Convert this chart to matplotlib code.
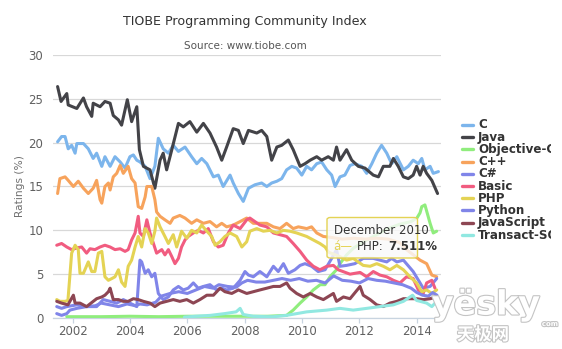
import matplotlib
matplotlib.use("Agg")
import matplotlib.pyplot as plt
import matplotlib.patheffects as pe
from matplotlib.lines import Line2D
from matplotlib.patches import FancyBboxPatch
from matplotlib.transforms import Bbox, TransformedBbox

# (decimal year, rating %)
c_points = [
    (2001.48, 20.1), (2001.62, 20.7), (2001.74, 20.7), (2001.85, 19.3), (2001.97, 19.7),
    (2002.09, 18.8), (2002.15, 19.9), (2002.38, 19.9), (2002.55, 19.3), (2002.72, 18.2),
    (2002.84, 18.8), (2003.02, 17.3), (2003.13, 18.4), (2003.31, 17.3), (2003.48, 18.4),
    (2003.66, 17.8), (2003.83, 17.1), (2004.00, 18.4), (2004.12, 18.6), (2004.24, 18.0),
    (2004.35, 17.8), (2004.53, 17.3), (2004.70, 15.9), (2004.87, 17.3), (2004.99, 20.5),
    (2005.16, 19.3), (2005.34, 18.8), (2005.51, 19.7), (2005.69, 19.0), (2005.92, 19.5),
    (2006.15, 18.4), (2006.33, 17.6), (2006.50, 18.2), (2006.68, 17.6), (2006.91, 16.1),
    (2007.08, 16.3), (2007.25, 15.0), (2007.49, 16.3), (2007.60, 15.4), (2007.78, 14.2),
    (2007.95, 13.3), (2008.13, 14.8), (2008.36, 15.2), (2008.59, 15.4), (2008.77, 15.0),
    (2008.94, 15.4), (2009.12, 15.6), (2009.29, 15.9), (2009.46, 16.9), (2009.64, 17.3),
    (2009.81, 17.1), (2009.99, 16.3), (2010.16, 17.3), (2010.33, 16.9), (2010.51, 17.6),
    (2010.68, 17.8), (2010.86, 16.9), (2011.03, 16.3), (2011.15, 15.0), (2011.32, 16.1),
    (2011.49, 16.3), (2011.67, 17.4), (2011.84, 17.6), (2012.08, 17.3), (2012.25, 16.5),
    (2012.43, 17.6), (2012.60, 18.8), (2012.77, 19.7), (2012.95, 18.8), (2013.12, 17.6),
    (2013.30, 18.4), (2013.53, 16.9), (2013.70, 17.3), (2013.87, 18.0), (2014.05, 17.6),
    (2014.17, 18.2), (2014.28, 16.9), (2014.46, 17.3), (2014.57, 16.5), (2014.75, 16.7),
]
java_points = [
    (2001.48, 26.4), (2001.60, 24.7), (2001.80, 25.6), (2001.85, 24.3), (2002.15, 23.9),
    (2002.38, 25.1), (2002.49, 24.1), (2002.67, 23.0), (2002.72, 24.5), (2002.96, 24.1),
    (2003.13, 24.7), (2003.31, 24.5), (2003.42, 23.1), (2003.60, 22.6), (2003.71, 22.0),
    (2003.91, 24.9), (2004.06, 22.4), (2004.24, 24.1), (2004.33, 19.2), (2004.47, 17.3),
    (2004.70, 16.9), (2004.87, 14.8), (2005.05, 18.0), (2005.16, 18.8), (2005.28, 16.9),
    (2005.46, 19.2), (2005.69, 22.2), (2005.86, 21.8), (2006.09, 22.4), (2006.33, 21.2),
    (2006.56, 22.2), (2006.79, 21.1), (2007.02, 19.5), (2007.20, 18.0), (2007.37, 19.5),
    (2007.60, 21.6), (2007.78, 21.4), (2007.95, 19.9), (2008.13, 21.4), (2008.42, 21.1),
    (2008.59, 21.4), (2008.77, 20.7), (2008.94, 18.0), (2009.12, 19.5), (2009.29, 19.7),
    (2009.52, 20.3), (2009.69, 19.2), (2009.93, 17.3), (2010.10, 17.6), (2010.28, 18.0),
    (2010.51, 18.4), (2010.68, 18.0), (2010.91, 18.4), (2011.09, 18.0), (2011.20, 19.5),
    (2011.32, 18.0), (2011.55, 19.2), (2011.73, 18.0), (2011.96, 17.3), (2012.19, 17.1),
    (2012.48, 16.3), (2012.66, 16.1), (2012.83, 17.3), (2013.06, 17.3), (2013.18, 18.2),
    (2013.35, 17.3), (2013.53, 16.1), (2013.70, 15.9), (2013.87, 16.3), (2013.99, 17.3),
    (2014.11, 16.3), (2014.22, 17.3), (2014.34, 16.5), (2014.52, 15.7), (2014.72, 14.2),
]
objc_points = [
    (2001.80, 0.15), (2003.00, 0.15), (2004.00, 0.2), (2005.00, 0.15), (2006.00, 0.2),
    (2007.00, 0.2), (2008.00, 0.2), (2008.80, 0.2), (2009.46, 0.3), (2009.69, 0.9),
    (2009.93, 1.7), (2010.16, 2.4), (2010.39, 3.2), (2010.63, 3.8), (2010.80, 3.8),
    (2010.97, 4.7), (2011.20, 5.5), (2011.32, 6.2), (2011.55, 7.2), (2011.80, 8.0),
    (2012.20, 8.8), (2012.60, 9.5), (2013.00, 10.2), (2013.40, 10.7), (2013.80, 11.0),
    (2014.00, 11.4), (2014.11, 12.0), (2014.17, 12.7), (2014.28, 12.9), (2014.46, 10.8),
    (2014.57, 9.7), (2014.69, 9.9),
]
cpp_points = [
    (2001.48, 14.2), (2001.56, 15.9), (2001.74, 16.1), (2001.85, 15.7), (2002.03, 15.0),
    (2002.20, 15.6), (2002.38, 14.8), (2002.55, 14.2), (2002.72, 14.8), (2002.84, 15.7),
    (2002.96, 13.5), (2003.02, 13.1), (2003.13, 15.0), (2003.25, 15.4), (2003.31, 14.6),
    (2003.42, 16.1), (2003.54, 16.5), (2003.66, 17.4), (2003.77, 16.5), (2003.94, 17.3),
    (2004.06, 15.9), (2004.18, 15.4), (2004.29, 12.7), (2004.41, 12.5), (2004.53, 13.8),
    (2004.59, 15.0), (2004.76, 15.0), (2004.87, 13.5), (2004.93, 12.1), (2005.05, 11.6),
    (2005.22, 11.2), (2005.40, 10.8), (2005.51, 11.4), (2005.74, 11.7), (2005.92, 11.4),
    (2006.15, 10.8), (2006.33, 11.2), (2006.56, 10.8), (2006.79, 11.0), (2007.02, 10.4),
    (2007.20, 10.8), (2007.37, 10.4), (2007.60, 10.6), (2007.84, 11.0), (2008.07, 11.4),
    (2008.30, 10.8), (2008.53, 10.8), (2008.77, 10.8), (2009.00, 10.4), (2009.23, 10.2),
    (2009.46, 10.8), (2009.69, 10.2), (2009.87, 10.4), (2010.16, 10.2), (2010.33, 10.4),
    (2010.51, 9.7), (2010.74, 9.3), (2011.00, 9.2), (2011.40, 9.0), (2011.80, 9.1),
    (2012.20, 9.0), (2012.60, 9.1), (2013.00, 9.0), (2013.40, 8.6), (2013.64, 7.8),
    (2014.11, 6.6), (2014.34, 6.2), (2014.52, 4.9), (2014.69, 4.7),
]
csharp_points = [
    (2001.45, 0.5), (2001.62, 0.3), (2001.80, 0.5), (2001.91, 0.9), (2002.15, 1.1),
    (2002.49, 1.3), (2002.84, 1.3), (2003.07, 2.1), (2003.31, 1.9), (2003.54, 1.7),
    (2003.77, 2.1), (2004.00, 1.7), (2004.24, 1.3), (2004.35, 6.6), (2004.41, 6.4),
    (2004.53, 5.1), (2004.64, 5.5), (2004.76, 4.7), (2004.87, 5.1), (2004.99, 2.8),
    (2005.16, 2.1), (2005.34, 2.4), (2005.51, 3.2), (2005.69, 3.6), (2005.86, 3.2),
    (2006.03, 3.4), (2006.21, 4.0), (2006.38, 3.4), (2006.56, 3.6), (2006.79, 3.8),
    (2007.02, 3.2), (2007.20, 3.4), (2007.37, 3.2), (2007.60, 3.4), (2007.84, 4.3),
    (2008.01, 5.3), (2008.13, 4.9), (2008.30, 4.7), (2008.53, 5.3), (2008.77, 4.7),
    (2009.00, 5.9), (2009.17, 5.3), (2009.35, 6.2), (2009.52, 5.1), (2009.75, 5.5),
    (2009.93, 6.0), (2010.10, 6.2), (2010.33, 5.9), (2010.56, 5.3), (2010.80, 5.5),
    (2011.03, 6.8), (2011.20, 7.8), (2011.32, 5.9), (2011.55, 6.0), (2011.84, 6.2),
    (2012.13, 6.8), (2012.48, 6.8), (2012.71, 6.6), (2012.95, 6.4), (2013.12, 6.8),
    (2013.30, 6.4), (2013.53, 6.6), (2013.87, 5.3), (2014.11, 4.0), (2014.22, 3.4),
    (2014.46, 3.6), (2014.69, 4.5),
]
basic_points = [
    (2001.45, 8.3), (2001.62, 8.5), (2001.80, 8.1), (2001.97, 7.8), (2002.15, 8.0),
    (2002.32, 8.1), (2002.49, 7.4), (2002.61, 7.9), (2002.78, 7.8), (2002.96, 8.1),
    (2003.13, 8.3), (2003.31, 8.1), (2003.48, 7.8), (2003.66, 7.9), (2003.83, 7.6),
    (2003.94, 7.8), (2004.06, 8.9), (2004.18, 9.7), (2004.29, 11.6), (2004.35, 9.7),
    (2004.47, 9.3), (2004.59, 11.2), (2004.70, 9.7), (2004.82, 8.5), (2004.93, 7.4),
    (2005.11, 7.8), (2005.22, 7.2), (2005.34, 7.8), (2005.46, 7.0), (2005.57, 6.2),
    (2005.69, 6.8), (2005.80, 8.1), (2005.92, 8.9), (2006.03, 9.3), (2006.21, 9.7),
    (2006.38, 10.0), (2006.56, 9.7), (2006.73, 10.2), (2006.91, 8.7), (2007.08, 8.1),
    (2007.25, 8.3), (2007.43, 9.7), (2007.60, 10.6), (2007.84, 10.2), (2008.07, 11.2),
    (2008.18, 11.4), (2008.53, 10.6), (2008.77, 10.4), (2009.00, 9.7), (2009.46, 9.3),
    (2009.69, 8.5), (2009.93, 7.6), (2010.16, 6.6), (2010.39, 5.9), (2010.62, 5.5),
    (2010.86, 5.9), (2011.09, 6.0), (2011.26, 5.5), (2011.67, 5.0), (2012.02, 5.2),
    (2012.25, 4.7), (2012.48, 5.3), (2012.71, 4.9), (2012.95, 4.7), (2013.18, 4.3),
    (2013.41, 4.0), (2013.64, 4.7), (2013.87, 4.5), (2014.05, 3.2), (2014.22, 2.8),
    (2014.34, 4.0), (2014.52, 4.3), (2014.63, 3.4),
]
php_points = [
    (2001.45, 2.1), (2001.56, 1.9), (2001.74, 1.9), (2001.84, 2.0), (2001.97, 7.4),
    (2002.09, 8.3), (2002.20, 7.8), (2002.26, 5.1), (2002.38, 5.1), (2002.55, 6.4),
    (2002.67, 5.3), (2002.78, 5.3), (2002.90, 7.4), (2003.02, 7.6), (2003.13, 4.7),
    (2003.25, 4.3), (2003.37, 4.5), (2003.48, 4.7), (2003.60, 5.5), (2003.71, 4.1),
    (2003.83, 3.6), (2003.94, 5.9), (2004.06, 6.6), (2004.18, 8.1), (2004.29, 9.3),
    (2004.41, 8.1), (2004.53, 10.2), (2004.64, 9.7), (2004.76, 8.5), (2004.87, 9.9),
    (2004.93, 11.4), (2005.05, 10.4), (2005.22, 9.3), (2005.34, 8.5), (2005.51, 9.5),
    (2005.63, 8.1), (2005.80, 9.9), (2005.98, 9.1), (2006.15, 10.0), (2006.33, 9.7),
    (2006.50, 10.6), (2006.68, 9.9), (2006.85, 9.3), (2006.97, 8.3), (2007.14, 8.7),
    (2007.31, 9.3), (2007.49, 9.7), (2007.72, 9.3), (2007.90, 8.1), (2008.07, 8.7),
    (2008.18, 9.9), (2008.42, 10.2), (2008.65, 9.9), (2008.88, 10.0), (2009.12, 9.7),
    (2009.35, 10.0), (2009.58, 9.9), (2009.81, 9.7), (2010.16, 9.3), (2010.39, 8.9),
    (2010.62, 8.5), (2010.80, 8.1), (2010.92, 7.511), (2011.32, 7.0), (2011.55, 6.6),
    (2011.78, 6.8), (2012.13, 6.0), (2012.37, 5.9), (2012.60, 6.2), (2012.83, 5.9),
    (2013.06, 5.5), (2013.30, 6.0), (2013.53, 5.5), (2013.76, 4.7), (2013.99, 4.0),
    (2014.17, 3.0), (2014.34, 3.2), (2014.52, 2.8), (2014.69, 3.2),
]
python_points = [
    (2001.45, 1.3), (2001.62, 1.1), (2001.80, 1.3), (2002.15, 1.5), (2002.50, 1.3),
    (2002.80, 1.4), (2003.00, 1.7), (2003.30, 1.5), (2003.60, 1.3), (2003.90, 1.6),
    (2004.20, 1.4), (2004.35, 1.6), (2004.60, 1.5), (2004.90, 1.8), (2005.10, 2.5),
    (2005.40, 2.8), (2005.70, 3.0), (2006.00, 2.8), (2006.30, 3.2), (2006.60, 3.6),
    (2006.90, 3.4), (2007.10, 3.8), (2007.40, 3.6), (2007.70, 3.5), (2007.90, 4.0),
    (2008.10, 4.3), (2008.40, 4.1), (2008.70, 4.1), (2009.00, 4.3), (2009.30, 4.5),
    (2009.60, 4.3), (2009.90, 4.5), (2010.20, 4.2), (2010.50, 4.3), (2010.80, 4.0),
    (2011.10, 4.8), (2011.40, 4.3), (2011.70, 4.2), (2012.00, 4.0), (2012.30, 4.5),
    (2012.60, 4.3), (2012.90, 4.2), (2013.20, 4.0), (2013.50, 3.8), (2013.80, 3.4),
    (2014.00, 2.9), (2014.20, 2.6), (2014.40, 2.5), (2014.55, 2.9), (2014.70, 2.6),
]
js_points = [
    (2001.45, 1.9), (2001.62, 1.7), (2001.84, 1.5), (2002.03, 2.6), (2002.09, 1.7),
    (2002.26, 1.7), (2002.49, 1.3), (2002.84, 2.2), (2003.02, 2.4), (2003.13, 2.6),
    (2003.25, 3.0), (2003.31, 3.4), (2003.42, 2.1), (2003.60, 2.1), (2003.77, 1.9),
    (2003.94, 1.9), (2004.12, 2.2), (2004.29, 2.1), (2004.47, 1.9), (2004.70, 1.7),
    (2004.87, 1.3), (2005.05, 1.7), (2005.28, 1.9), (2005.51, 2.1), (2005.74, 1.9),
    (2005.98, 2.1), (2006.21, 1.7), (2006.44, 2.1), (2006.68, 2.6), (2006.91, 2.6),
    (2007.14, 3.4), (2007.31, 3.0), (2007.55, 2.8), (2007.78, 3.2), (2008.07, 2.8),
    (2008.53, 3.2), (2008.77, 3.4), (2009.00, 3.6), (2009.23, 3.6), (2009.46, 4.0),
    (2009.58, 3.4), (2009.81, 2.8), (2010.04, 2.4), (2010.28, 2.8), (2010.51, 2.4),
    (2010.74, 2.1), (2011.09, 2.8), (2011.20, 1.9), (2011.44, 2.4), (2011.67, 2.2),
    (2012.02, 3.6), (2012.13, 2.6), (2012.37, 2.1), (2012.60, 1.5), (2012.83, 1.3),
    (2013.06, 1.7), (2013.30, 1.9), (2013.53, 2.2), (2013.76, 2.2), (2013.99, 2.2),
    (2014.22, 2.1), (2014.46, 2.2), (2014.69, 2.4),
]
tsql_points = [
    (2005.90, 0.1), (2006.30, 0.2), (2006.80, 0.3), (2007.30, 0.5), (2007.70, 0.7),
    (2007.84, 1.1), (2007.95, 0.4), (2008.30, 0.2), (2008.77, 0.15), (2009.00, 0.15),
    (2009.46, 0.3), (2010.16, 0.7), (2010.86, 0.9), (2011.32, 1.1), (2011.78, 0.9),
    (2012.25, 1.1), (2012.71, 1.3), (2013.18, 1.5), (2013.53, 1.9), (2013.76, 2.4),
    (2013.85, 2.6), (2013.99, 2.0), (2014.11, 1.9), (2014.34, 1.7), (2014.52, 1.3),
    (2014.69, 1.9),
]

languages = ["C", "Java", "Objective-C", "C++", "C#", "Basic", "PHP",
             "Python", "JavaScript", "Transact-SQL"]
series_points = [c_points, java_points, objc_points, cpp_points, csharp_points,
                 basic_points, php_points, python_points, js_points, tsql_points]
colors = ["#7cb5ec", "#434348", "#90ed7d", "#f7a35c", "#8085e9",
          "#f15c80", "#e4d354", "#8085e8", "#8d4653", "#91e8e1"]

x_ticks = [2002, 2004, 2006, 2008, 2010, 2012, 2014]
y_ticks = [0, 5, 10, 15, 20, 25, 30]

W, H = 562, 349


def fig_xy(x_px, y_px):
    return x_px / W, 1 - y_px / H


def main() -> None:
    fig = plt.figure(figsize=(W / 100, H / 100), dpi=100)
    ax = fig.add_axes([53 / W, 1 - 318 / H, 388 / W, 263 / H])

    for i, (pts, color) in enumerate(zip(series_points, colors)):
        xs = [p[0] for p in pts]
        ys = [p[1] for p in pts]
        ax.plot(xs, ys, color=color, lw=2.2, solid_joinstyle="round",
                solid_capstyle="round", zorder=3 + i)

    ax.set_xlim(2001.32, 2014.84)
    ax.set_ylim(0, 30)
    ax.set_xticks(x_ticks)
    ax.set_yticks(y_ticks)
    for y in y_ticks:
        ax.axhline(y, color="#d8d8d8", lw=0.9, zorder=1)
    for side in ["top", "right", "left"]:
        ax.spines[side].set_visible(False)
    ax.spines["bottom"].set_color("#c8d4e0")
    ax.spines["bottom"].set_linewidth(0.9)
    ax.tick_params(axis="y", length=0, pad=7, labelsize=8.5, labelcolor="#606060")
    ax.tick_params(axis="x", length=3.6, width=0.9, color="#c8d4e0", pad=1.5,
                   labelsize=8.5, labelcolor="#606060")

    fig.text(*fig_xy(245, 22), "TIOBE Programming Community Index",
             ha="center", va="center", fontsize=9.1, color="#333333")
    fig.text(*fig_xy(245, 46), "Source: www.tiobe.com",
             ha="center", va="center", fontsize=7.5, color="#555555")
    fig.text(*fig_xy(20, 186), "Ratings (%)", rotation=90,
             ha="center", va="center", fontsize=7.7, color="#707070")

    # legend on the right; its item texts are cut off a little before the edge
    legend_clip = TransformedBbox(Bbox([[0, 0], [551 / W, 1]]), fig.transFigure)
    for i, (name, color) in enumerate(zip(languages, colors)):
        y = 125 + i * 12.2
        x0, yy = fig_xy(462, y)
        x1, _ = fig_xy(473, y)
        fig.add_artist(Line2D([x0, x1], [yy, yy], color=color, lw=2.4,
                              solid_capstyle="round", transform=fig.transFigure))
        label = fig.text(*fig_xy(478, y), name, ha="left", va="center",
                         fontsize=8.6, fontweight="bold", color="#333333")
        label.set_clip_box(legend_clip)
        label.set_clip_on(True)

    # tooltip
    bx0, by0 = fig_xy(327, 258)
    bx1, by1 = fig_xy(417.5, 217.5)
    box = FancyBboxPatch((bx0, by0), bx1 - bx0, by1 - by0,
                         boxstyle="round,pad=0,rounding_size=0.006",
                         transform=fig.transFigure, facecolor=(0.98, 0.98, 0.98, 0.82),
                         edgecolor="#e4d354", lw=1.0, zorder=20)
    fig.add_artist(box)
    fig.text(*fig_xy(334, 231), "December 2010", ha="left", va="center",
             fontsize=8.5, color="#333333", zorder=21)
    fig.text(*fig_xy(333.5, 246), "á—", ha="left", va="center",
             fontsize=8.5, color="#e4d354", zorder=21)
    fig.text(*fig_xy(356.5, 246), "PHP:", ha="left", va="center",
             fontsize=8.5, color="#333333", zorder=21)
    fig.text(*fig_xy(388, 246), "7.511%", ha="left", va="center",
             fontsize=8.5, fontweight="bold", color="#333333", zorder=21)

    # site watermark
    stroke = [pe.withStroke(linewidth=1.6, foreground="#c4c4c4")]
    fig.text(*fig_xy(486, 305), "yësky", ha="center", va="center", fontsize=24,
             fontweight="bold", color="white", path_effects=stroke, zorder=30)
    fig.text(*fig_xy(550, 324), "com", ha="center", va="center", fontsize=5,
             fontweight="bold", color="white", path_effects=stroke, zorder=30)
    fig.text(*fig_xy(483, 335), "天极网", ha="center", va="center", fontsize=12.5,
             family=["Noto Sans CJK SC", "DejaVu Sans"], fontweight="bold",
             color="white", path_effects=stroke, zorder=30)

    fig.savefig("out.png", dpi=100)


if __name__ == "__main__":
    main()
